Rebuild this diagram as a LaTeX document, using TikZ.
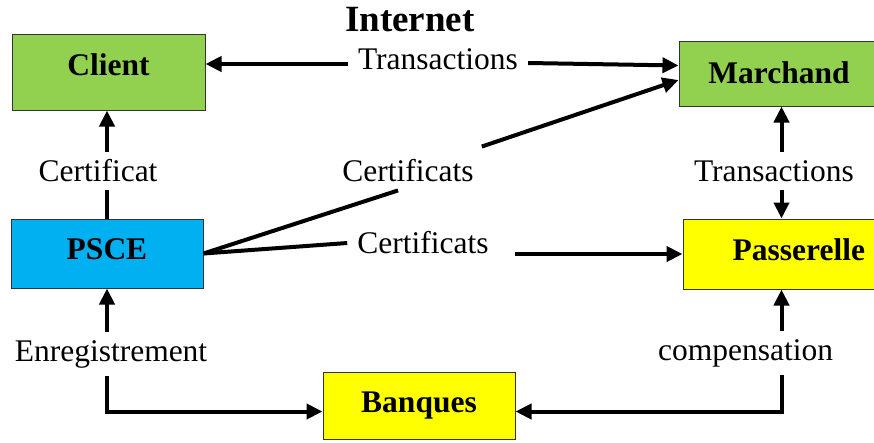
\documentclass[tikz,border=0pt]{standalone}
\usepackage{fontspec}
\setmainfont{Liberation Serif}
\usetikzlibrary{arrows.meta}

\definecolor{vert}{HTML}{92D050}
\definecolor{bleu}{HTML}{00B0F0}
\definecolor{jaune}{HTML}{FFFF00}

\begin{document}
\begin{tikzpicture}[x=1pt, y=-1pt,
	font=\fontsize{31.5}{36}\selectfont,
	boite/.style={draw=black!80, line width=1pt, inner sep=0pt,
		font=\fontsize{31.5}{36}\selectfont\bfseries},
	etiq/.style={inner xsep=10pt, inner ysep=8pt},
	trait/.style={line width=4pt},
	fleche/.style={line width=4pt, -{Triangle[length=16pt,width=15pt]}}]

	\useasboundingbox (0,0) rectangle (874,442);

	% boxes
	\node[boite, fill=vert, minimum width=193pt, minimum height=76pt, text depth=15pt] (client) at (108.5,72) {Client};
	\node[boite, fill=vert, minimum width=200pt, minimum height=65pt, text depth=2pt] (marchand) at (779,73.5) {Marchand};
	\node[boite, fill=bleu, minimum width=192pt, minimum height=69pt, text depth=8pt] (psce) at (107,253.5) {PSCE};
	\node[boite, fill=jaune, minimum width=197pt, minimum height=70pt, text depth=9pt,
		text width=167pt, align=right] (passerelle) at (781.5,254) {Passerelle};
	\node[boite, fill=jaune, minimum width=192pt, minimum height=67pt] (banques) at (419,405.5) {Banques};

	% labels
	\node[font=\fontsize{37}{42}\selectfont\bfseries] (internet) at (410,20) {Internet};
	\node[etiq] (trans1) at (438,59) {Transactions};
	\node[etiq] (certs1) at (408,171) {Certificats};
	\node[etiq] (certs2) at (423,243) {Certificats};
	\node[etiq] (cert) at (98,171) {Certificat};
	\node[etiq] (trans2) at (774,171) {Transactions};
	\node[etiq] (enreg) at (111,354) {Enregistrement};
	\node[etiq] (comp) at (745.5,353) {compensation};

	%draw Client - Marchand
	\draw[fleche] ([yshift=-5pt]trans1.west) coordinate (t1) -- (client.east |- t1);
	\draw[fleche] ([yshift=-4pt]trans1.east) -- ([yshift=8pt]marchand.west);

	%draw PSCE - Client
	\draw[trait] (psce.north) -- (cert.south -| psce.north);
	\draw[fleche] (cert.north -| psce.north) -- (client.south -| psce.north);

	%draw PSCE - Marchand
	\draw[trait] (psce.east) -- ([xshift=-10pt]certs1.south);
	\draw[fleche] ([xshift=-2pt,yshift=5pt]certs1.north east) -- ([yshift=-6.5pt]marchand.west);

	%draw PSCE - Passerelle
	\draw[trait] (psce.east) -- (certs2.west);
	\draw[fleche] ([xshift=16pt]certs2.east |- passerelle.west) -- (passerelle.west);

	%draw Marchand - Passerelle
	\draw[fleche] (trans2.north -| passerelle.north) -- (marchand.south -| passerelle.north);
	\draw[fleche] (trans2.south -| passerelle.north) -- (passerelle.north);

	%draw Banques
	\draw[fleche] (enreg.north -| psce.south) -- (psce.south);
	\draw[fleche] (enreg.south -| psce.south) |- ([yshift=-6pt]banques.west);
	\draw[fleche] (comp.north -| passerelle.south) -- (passerelle.south);
	\draw[fleche] (comp.south -| passerelle.south) |- ([yshift=-6pt]banques.east);

\end{tikzpicture}
\end{document}
